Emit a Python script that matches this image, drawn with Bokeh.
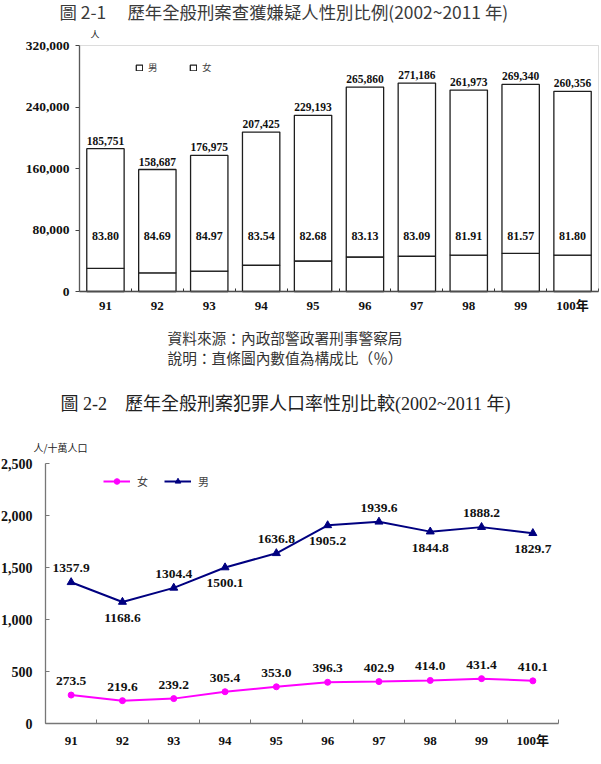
from bokeh.plotting import figure
from bokeh.models import (Label, FixedTicker, NumeralTickFormatter, ColumnDataSource,
                          Legend, Range1d, BoxAnnotation)
from bokeh.layouts import column
from bokeh.core.properties import value
from bokeh.embed import file_html
from bokeh.resources import INLINE

# ---- data ----
years = ["91", "92", "93", "94", "95", "96", "97", "98", "99", "100年"]
suspects_total = [185751, 158687, 176975, 207425, 229193, 265860, 271186, 261973, 269340, 260356]
male_share = [83.80, 84.69, 84.97, 83.54, 82.68, 83.13, 83.09, 81.91, 81.57, 81.80]
female_rate = [273.5, 219.6, 239.2, 305.4, 353.0, 396.3, 402.9, 414.0, 431.4, 410.1]
male_rate = [1357.9, 1168.6, 1304.4, 1500.1, 1636.8, 1905.2, 1939.6, 1844.8, 1888.2, 1829.7]
bar_ticks = [0, 80000, 160000, 240000, 320000]
rate_ticks = [0, 500, 1000, 1500, 2000, 2500]

SERIF = "Liberation Serif"
CJK = "Noto Sans CJK TC"
MIX = "'Liberation Serif', 'Noto Sans CJK TC'"

W = 601
H1, H2 = 420, 344

xs = list(range(1, len(years) + 1))
labels_map = {float(i): t for i, t in zip(xs, years)}
bounds = [i + 0.5 for i in range(0, len(years) + 1)]
lo, hi = bounds[0], bounds[-1]


def canvas_ranges(height, px_left, px_right, px_top, px_bottom, vmax):
    """Ranges that stretch the plotting area over the whole canvas, with the
    chart box [lo, hi] x [0, vmax] landing on the given pixel edges."""
    kx = (px_right - px_left) / (hi - lo)
    x0 = lo - px_left / kx
    ky = (px_bottom - px_top) / vmax
    return (Range1d(x0, x0 + W / kx),
            Range1d(-(height - px_bottom) / ky, px_bottom / ky))


def make_fig(height, xr, yr):
    f = figure(width=W, height=height, x_range=xr, y_range=yr,
               output_backend="svg", toolbar_location=None, min_border=0,
               min_border_left=0, min_border_right=0, min_border_top=0, min_border_bottom=0)
    f.background_fill_color = "white"
    f.border_fill_color = "white"
    f.outline_line_color = None
    f.grid.visible = False
    return f


def place(fig, x, y, text, size, font, color="#000", align="left"):
    fig.add_layout(Label(x=x, y=fig.height - y, x_units="screen", y_units="screen",
                         text=text, text_font=font, text_font_size=size,
                         text_color=color, text_align=align, text_baseline="middle"))


def style_axes(fig, vmax, ticks, xcol, ycol, x_in, y_in, y_out, xstand, ystand, yfs):
    xa = fig.xaxis[0]
    xa.fixed_location = 0
    xa.bounds = (lo, hi)
    xa.ticker = FixedTicker(ticks=xs, minor_ticks=bounds)
    xa.major_label_overrides = labels_map
    xa.major_tick_line_color = None
    xa.minor_tick_in = x_in
    xa.minor_tick_out = 0
    xa.minor_tick_line_color = xcol
    xa.axis_line_color = xcol
    xa.axis_line_width = 1.3
    xa.major_label_standoff = xstand
    xa.major_label_text_font = MIX
    xa.major_label_text_font_style = "bold"
    xa.major_label_text_font_size = "13px"
    xa.major_label_text_color = "#111"

    ya = fig.yaxis[0]
    ya.fixed_location = lo
    ya.bounds = (0, vmax)
    ya.ticker = FixedTicker(ticks=ticks)
    ya.formatter = NumeralTickFormatter(format="0,0")
    ya.major_tick_in = y_in
    ya.major_tick_out = y_out
    ya.minor_tick_line_color = None
    ya.axis_line_color = ycol
    ya.axis_line_width = 1.3
    ya.major_tick_line_color = ycol
    ya.major_label_standoff = ystand
    ya.major_label_text_font = SERIF
    ya.major_label_text_font_style = "bold"
    ya.major_label_text_font_size = yfs
    ya.major_label_text_color = "#111"


# ---- figure 2-1: stacked bars of suspects by sex ----
female_cnt = [t * (100 - s) / 100 for t, s in zip(suspects_total, male_share)]
male_cnt = [t - f for t, f in zip(suspects_total, female_cnt)]
src = ColumnDataSource(dict(x=xs, female=female_cnt, male=male_cnt, total=suspects_total,
                            total_txt=[f"{v:,}" for v in suspects_total],
                            share_txt=[f"{v:.2f}" for v in male_share],
                            share_y=[72000] * len(xs)))

xr1, yr1 = canvas_ranges(H1, 79, 598, 45, 291, bar_ticks[-1])
p1 = make_fig(H1, xr1, yr1)
p1.add_layout(BoxAnnotation(left=lo, right=hi, bottom=0, top=bar_ticks[-1],
                            fill_alpha=0, line_color="#8a8a8a", line_width=1))

rs = p1.vbar_stack(["female", "male"], x="x", width=0.72, source=src,
                   fill_color="white", line_color="#1e1e1e", line_width=1.3)

p1.text(x="x", y="total", text="total_txt", source=src, text_align="center",
        text_baseline="middle", y_offset=-8, text_font=value(SERIF),
        text_font_style="bold", text_font_size="11.5px", text_color="#111")
p1.text(x="x", y="share_y", text="share_txt", source=src, text_align="center",
        text_baseline="middle", text_font=value(SERIF),
        text_font_style="bold", text_font_size="12px", text_color="#111")

leg1 = Legend(items=[("男", [rs[1]]), ("女", [rs[0]])], orientation="horizontal",
              location=(135, H1 - 64 - 10), padding=0, margin=0, spacing=31,
              glyph_width=8, glyph_height=7, label_height=10, label_width=10,
              label_standoff=5, label_text_font=CJK, label_text_font_size="9.5px",
              border_line_color=None, background_fill_alpha=0)
p1.add_layout(leg1)

style_axes(p1, bar_ticks[-1], bar_ticks, "#333", "#444", 3, 0, 4, 0, 6, "13.5px")

place(p1, 59, 11, "圖 2-1\u3000 歷年全般刑案查獲嫌疑人性別比例(2002~2011 年)", "17.4px", CJK, "#3a3a3a")
place(p1, 90, 34, "人", "9px", CJK, "#222")
place(p1, 167, 337, "資料來源：內政部警政署刑事警察局", "14.7px", CJK, "#333")
place(p1, 167, 357, "說明：直條圖內數值為構成比（％）", "14.7px", CJK, "#333")
place(p1, 60, 403, "圖 2-2\u3000歷年全般刑案犯罪人口率性別比較(2002~2011 年)", "18px", MIX, "#222")

# ---- figure 2-2: offender rate per 100,000 by sex ----
rsrc = ColumnDataSource(dict(x=xs, f=female_rate, m=male_rate,
                             f_txt=[f"{v:.1f}" for v in female_rate]))

xr2, yr2 = canvas_ranges(H2, 45, 558, 43, 303, rate_ticks[-1])
p2 = make_fig(H2, xr2, yr2)

fl = p2.line("x", "f", source=rsrc, line_color="#ff00ff", line_width=2)
fs = p2.scatter("x", "f", source=rsrc, marker="circle", size=6,
                fill_color="#ff00ff", line_color="#ff00ff")
ml = p2.line("x", "m", source=rsrc, line_color="#000080", line_width=2)
ms = p2.scatter("x", "m", source=rsrc, marker="triangle", size=8,
                fill_color="#000080", line_color="#000080")

# female labels sit above their points; male labels alternate above/below
p2.text(x="x", y="f", text="f_txt", source=rsrc, text_align="center", text_baseline="middle",
        y_offset=-14, text_font=value(SERIF), text_font_style="bold",
        text_font_size="13.5px", text_color="#111")
above = ColumnDataSource(dict(x=xs[0::2], m=male_rate[0::2],
                              t=[f"{v:.1f}" for v in male_rate[0::2]]))
below = ColumnDataSource(dict(x=xs[1::2], m=male_rate[1::2],
                              t=[f"{v:.1f}" for v in male_rate[1::2]]))
p2.text(x="x", y="m", text="t", source=above, text_align="center", text_baseline="middle",
        y_offset=-14, text_font=value(SERIF), text_font_style="bold",
        text_font_size="13.5px", text_color="#111")
p2.text(x="x", y="m", text="t", source=below, text_align="center", text_baseline="middle",
        y_offset=16, text_font=value(SERIF), text_font_style="bold",
        text_font_size="13.5px", text_color="#111")

leg2 = Legend(items=[("女", [fl, fs]), ("男", [ml, ms])], orientation="horizontal",
              location=(103, H2 - 55 - 14), padding=0, margin=0, spacing=16,
              glyph_width=27, glyph_height=14, label_height=14, label_width=10,
              label_standoff=7, label_text_font=CJK, label_text_font_size="11px",
              border_line_color=None, background_fill_alpha=0)
p2.add_layout(leg2)

style_axes(p2, rate_ticks[-1], rate_ticks, "#777", "#777", 4, 4, 0, 3, 13, "14px")

place(p2, 33, 27, "人/十萬人口", "10px", CJK, "#222")

layout = column(p1, p2, spacing=0)
open("out.html", "w").write(file_html(layout, INLINE))
